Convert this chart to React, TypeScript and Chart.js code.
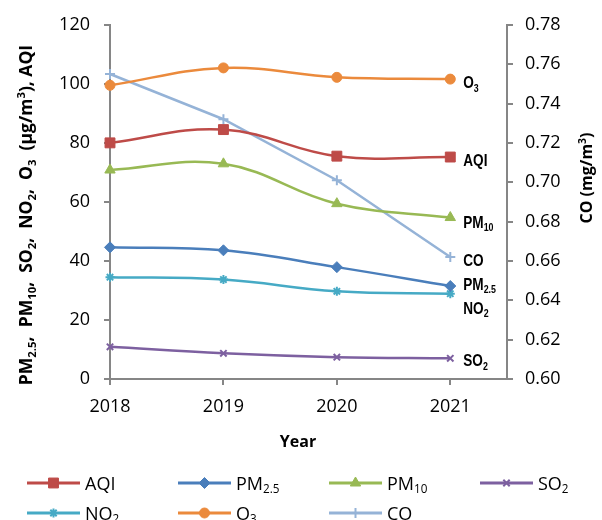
import React, { useEffect, useRef } from 'react';
import { Chart, registerables } from 'chart.js';
import { drawPoint } from 'chart.js/helpers';

Chart.register(...registerables);

// ---------- data ----------
const years = [2018, 2019, 2020, 2021];
const aqi = [80.0, 84.5, 75.5, 75.2];
const pm25 = [44.6, 43.6, 37.9, 31.5];
const pm10 = [70.8, 72.9, 59.4, 54.7];
const so2 = [10.9, 8.7, 7.4, 7.0];
const no2 = [34.5, 33.7, 29.7, 28.9];
const o3 = [99.5, 105.4, 102.2, 101.6];
const co = [0.755, 0.732, 0.701, 0.662];

// names: "_" marks a subscript part, "^" a superscript part
const seriesNames: string[][] = [
  ['AQI'],
  ['PM', '_2.5'],
  ['PM', '_10'],
  ['SO', '_2'],
  ['NO', '_2'],
  ['O', '_3'],
  ['CO'],
];
const leftTitle: string[] = ['PM', '_2.5', ',  PM', '_10', ',  SO', '_2', ',  NO', '_2', ',  O', '_3', '  (\u00b5g/m', '^3', '), AQI'];
const rightTitle: string[] = ['CO (mg/m', '^3', ')'];
const xTitle: string[] = ['Year'];

const seriesValues = [aqi, pm25, pm10, so2, no2, o3, co];
const seriesAxis = ['y', 'y', 'y', 'y', 'y', 'y', 'y2'];
const colors = ['#BE4B48', '#4A7EBB', '#98B954', '#7D60A0', '#46AAC5', '#EB8A3C', '#95B3D7'];
const pointStyles = ['rect', 'rectRot', 'triangle', 'crossRot', 'star', 'circle', 'cross'];
const pointRadii = [7, 5.5, 6, 4.5, 4.5, 5, 5];
const tensions = [0.4, 0.4, 0.4, 0.4, 0.4, 0.4, 0];
const endLabelDy = [9, 3.5, 10, 8, 20, 9, 9];

const FONT = '"Open Sans", "Noto Sans", sans-serif';

type RichOpts = { size: number; weight: string; family: string; align: 'left' | 'center'; rot?: number; sx?: number; color: string };

function measureRich(ctx: CanvasRenderingContext2D, parts: string[], size: number, weight: string, family: string) {
  return parts.map((p) => {
    let kind = 'n';
    let t = p;
    if (p[0] === '_') { kind = 'sub'; t = p.slice(1); }
    else if (p[0] === '^') { kind = 'sup'; t = p.slice(1); }
    const s = kind === 'n' ? size : size * 0.65;
    const font = `${weight} ${s}px ${family}`;
    ctx.font = font;
    return { t, kind, font, w: ctx.measureText(t).width };
  });
}

function drawRich(ctx: CanvasRenderingContext2D, parts: string[], x: number, y: number, o: RichOpts) {
  ctx.save();
  ctx.translate(x, y);
  if (o.rot) ctx.rotate(o.rot);
  if (o.sx) ctx.scale(o.sx, 1);
  ctx.fillStyle = o.color;
  ctx.textBaseline = 'alphabetic';
  ctx.textAlign = 'left';
  const size = o.size;
  const items = measureRich(ctx, parts, size, o.weight, o.family);
  const total = items.reduce((a, b) => a + b.w, 0);
  let cx = o.align === 'center' ? -total / 2 : 0;
  for (const it of items) {
    ctx.font = it.font;
    const dy = it.kind === 'sub' ? size * 0.22 : it.kind === 'sup' ? -size * 0.4 : 0;
    ctx.fillText(it.t, cx, dy);
    cx += it.w;
  }
  ctx.restore();
}

const textPlugin = {
  id: 'textPlugin',
  afterDraw(chart: any) {
    const ctx: CanvasRenderingContext2D = chart.ctx;
    // axis titles
    drawRich(ctx, leftTitle, 32, 215, {
      size: 17.5, weight: 'bold', family: FONT, align: 'center', rot: -Math.PI / 2, color: '#000',
    });
    drawRich(ctx, rightTitle, 592, 178, {
      size: 16, weight: 'bold', family: FONT, align: 'center', rot: -Math.PI / 2, color: '#000',
    });
    drawRich(ctx, xTitle, 298, 447, { size: 16, weight: 'bold', family: FONT, align: 'center', color: '#000' });

    // end labels
    chart.data.datasets.forEach((ds: any, i: number) => {
      const meta = chart.getDatasetMeta(i);
      const pt = meta.data[meta.data.length - 1];
      if (!pt) return;
      drawRich(ctx, seriesNames[i], pt.x + 13, pt.y + endLabelDy[i], {
        size: 17, weight: 'bold', family: '"Liberation Sans", Arial, sans-serif', align: 'left', sx: 0.8, color: '#000',
      });
    });

    // legend (grid layout)
    const colX = [27, 178, 329, 480];
    const rowY = [483, 513];
    chart.data.datasets.forEach((ds: any, i: number) => {
      const x0 = colX[i % 4];
      const y0 = rowY[Math.floor(i / 4)];
      ctx.save();
      ctx.strokeStyle = colors[i];
      ctx.fillStyle = colors[i];
      ctx.lineWidth = 3;
      ctx.beginPath();
      ctx.moveTo(x0, y0);
      ctx.lineTo(x0 + 53, y0);
      ctx.stroke();
      ctx.lineWidth = ds.pointBorderWidth;
      drawPoint(ctx, { pointStyle: pointStyles[i], radius: pointRadii[i], rotation: 0, borderWidth: ds.pointBorderWidth } as any, x0 + 26.5, y0);
      ctx.restore();
      drawRich(ctx, seriesNames[i], x0 + 58, y0 + 6.5, { size: 18, weight: 'normal', family: FONT, align: 'left', color: '#000' });
    });
  },
};

export default function App() {
  const ref = useRef<HTMLCanvasElement | null>(null);
  useEffect(() => {
    if (!ref.current) return;
    const tickFont = { family: FONT, size: 18 };
    const axisColor = '#868686';
    const chart = new Chart(ref.current, {
      type: 'line',
      data: {
        datasets: seriesValues.map((vals, i) => ({
          label: seriesNames[i].join(''),
          data: vals.map((v, j) => ({ x: years[j], y: v })),
          yAxisID: seriesAxis[i],
          borderColor: colors[i],
          backgroundColor: colors[i],
          pointBackgroundColor: colors[i],
          pointBorderColor: colors[i],
          pointStyle: pointStyles[i] as any,
          pointRadius: pointRadii[i],
          pointBorderWidth: ['crossRot', 'star', 'cross'].includes(pointStyles[i]) ? 2 : 1,
          borderWidth: 2.5,
          tension: tensions[i],
          fill: false,
          clip: false as any,
        })),
      },
      options: {
        animation: false,
        responsive: true,
        maintainAspectRatio: false,
        layout: { padding: { top: 23, left: 0, right: 0, bottom: 0 } },
        plugins: { legend: { display: false }, tooltip: { enabled: false } },
        scales: {
          x: {
            type: 'linear',
            position: 'bottom',
            min: 2018,
            max: 2021.5,
            afterBuildTicks: (s: any) => { s.ticks = years.map((v) => ({ value: v })); },
            ticks: { callback: (v: any) => String(v), font: tickFont, color: '#000', padding: 11, maxRotation: 0, autoSkip: false },
            grid: { drawOnChartArea: false, drawTicks: true, tickLength: 6, color: axisColor, lineWidth: 2 },
            border: { display: true, color: axisColor, width: 2 },
            afterFit: (s: any) => { s.height = 141; },
          },
          y: {
            position: 'left',
            min: 0,
            max: 120,
            ticks: { stepSize: 20, font: tickFont, color: '#000', padding: 14 },
            grid: { drawOnChartArea: false, drawTicks: true, tickLength: 6, color: axisColor, lineWidth: 2 },
            border: { display: true, color: axisColor, width: 2 },
            afterFit: (s: any) => { s.width = 110; },
          },
          y2: {
            position: 'right',
            min: 0.6,
            max: 0.78,
            ticks: { stepSize: 0.02, font: tickFont, color: '#000', padding: 12, callback: (v: any) => Number(v).toFixed(2) },
            grid: { drawOnChartArea: false, drawTicks: true, tickLength: 6, color: axisColor, lineWidth: 2 },
            border: { display: true, color: axisColor, width: 2 },
            afterFit: (s: any) => { s.width = 95; },
          },
        },
      } as any,
      plugins: [textPlugin],
    });
    return () => chart.destroy();
  }, []);
  return (
    <div style={{ position: 'fixed', left: 0, top: 0, width: 602, height: 520, background: '#fff' }}>
      <canvas ref={ref} />
    </div>
  );
}
